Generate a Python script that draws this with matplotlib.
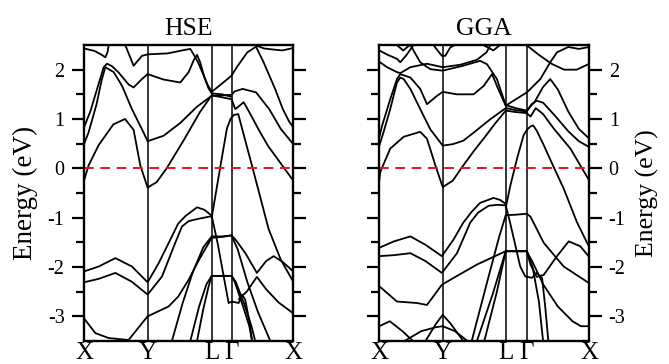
import matplotlib
matplotlib.use("Agg")
import matplotlib.pyplot as plt

plt.rcParams['font.family'] = ['Liberation Serif', 'DejaVu Serif']
plt.rcParams['axes.unicode_minus'] = False

# ---------------- k-path labels ----------------
kpath_labels = ['X', 'Y', 'L', 'Γ', 'X']
hse_kpts = [0.0, 0.304, 0.610, 0.705, 1.0]
gga_kpts = [0.0, 0.302, 0.602, 0.702, 1.0]
panel_titles = ['HSE', 'GGA']
yticks_major = [-3, -2, -1, 0, 1, 2]
yticks_minor = [-2.5, -1.5, -0.5, 0.5, 1.5]

# ---------------- HSE bands (k, E in eV) ----------------
hse_c1 = ([0, .022, .07, .14, .196, .237, .269, .304, .347, .395, .475, .554, .61, .66, .705, .723, .763, .80, .835, .88, .94, 1.0],
          [-.25, .06, .47, .89, 1.0, .78, .06, -.39, -.28, 0, .56, 1.14, 1.48, 1.44, 1.40, 1.20, 1.34, 1.06, .78, .45, .10, -.25])
hse_c2 = ([0, .022, .06, .085, .102, .142, .182, .229, .277, .304, .38, .46, .54, .61, .66, .705, .72, .758, .822, .885, .94, 1.0],
          [.49, .73, 1.30, 1.80, 2.05, 1.95, 1.67, 1.20, .79, .55, .66, .92, 1.25, 1.47, 1.48, 1.49, 1.56, 1.61, 1.54, 1.20, .80, .49])
hse_c3 = ([0, .03, .062, .094, .11, .134, .166, .213, .237, .277, .304, .38, .46, .50, .525, .54, .555, .575, .595, .61, .66, .705],
          [.83, 1.15, 1.6, 2.05, 2.12, 2.07, 1.94, 1.70, 1.64, 1.81, 1.91, 1.80, 1.74, 1.95, 2.2, 2.3, 2.15, 1.85, 1.62, 1.52, 1.50, 1.45])
hse_c4 = ([.197, .237, .277, .304, .40, .48, .508, .525, .545, .565, .59, .61, .66, .705, .73, .78, .835],
          [2.5, 2.08, 2.28, 2.31, 2.33, 2.40, 2.42, 2.30, 2.15, 1.95, 1.70, 1.55, 1.72, 1.88, 2.05, 2.35, 2.5])
hse_c5 = ([0, .05, .085, .102, .112, .118],
          [2.43, 2.38, 2.30, 2.25, 2.35, 2.5])
hse_c6 = ([.818, .86, .90, .946, .98, 1.0],
          [2.5, 2.43, 2.41, 2.39, 2.42, 2.44])
hse_c7 = ([.818, .858, .914, .95, .98, 1.0],
          [2.5, 2.15, 1.6, 1.2, .95, .83])
hse_v1 = ([0, .07, .15, .229, .304, .357, .42, .45, .484, .54, .575, .61],
          [-2.09, -1.99, -1.82, -1.99, -2.31, -1.92, -1.38, -1.12, -.97, -.79, -.84, -.96])
hse_v2 = ([0, .07, .15, .229, .304, .373, .436, .468, .50, .55, .61],
          [-2.31, -2.24, -2.12, -2.3, -2.56, -2.19, -1.51, -1.18, -1.07, -1.02, -.97])
hse_v3 = ([.61, .64, .66, .683, .70, .715, .737, .755, .806, .882, .94, 1.0],
          [-1.0, -.25, .25, .81, 1.0, 1.08, 1.1, .81, 0, -1.23, -1.85, -2.3])
hse_v4 = ([.61, .64, .67, .691, .707, .739, .755, .77, .79, .803],
          [-.96, -1.55, -2.25, -2.73, -2.7, -2.73, -2.56, -2.66, -3.1, -3.5])
hse_v5 = ([0, .054, .118, .213, .277, .304, .404, .45, .50, .55, .61, .66, .705, .725, .771, .826, .87, .906, .95, 1.0],
          [-3.04, -3.34, -3.44, -3.48, -3.14, -3.0, -2.8, -2.6, -2.26, -1.85, -1.41, -1.39, -1.36, -1.45, -1.72, -2.12, -1.88, -1.78, -1.9, -2.09])
hse_v6 = ([.42, .47, .52, .57, .61, .66, .705, .735, .78, .83, .89],
          [-3.5, -2.75, -2.1, -1.6, -1.38, -1.38, -1.36, -1.65, -2.3, -2.9, -3.5])
hse_v7 = ([.508, .55, .585, .61, .66, .705, .72, .76, .79, .803],
          [-3.5, -2.8, -2.35, -2.18, -2.18, -2.18, -2.3, -2.8, -3.2, -3.5])
hse_v8 = ([.54, .57, .595, .61, .66, .705, .725, .77, .80, .818],
          [-3.5, -2.85, -2.4, -2.18, -2.18, -2.18, -2.3, -2.8, -3.2, -3.5])
hse_v9 = ([.74, .779, .826, .87, .93, 1.0],
          [-2.65, -2.49, -2.2, -2.45, -2.72, -2.94])

# ---------------- GGA bands (k, E in eV) ----------------
gga_c1 = ([0, .005, .052, .116, .195, .227, .267, .302, .35, .39, .45, .50, .55, .602, .65, .702, .72, .745, .78, .83, .91, 1.0],
          [-.25, -.07, .40, .64, .74, .60, .06, -.38, -.25, 0, .35, .62, .90, 1.17, 1.14, 1.12, 1.05, 1.22, 1.1, .81, .40, -.25])
gga_c2 = ([0, .02, .052, .084, .10, .116, .148, .195, .243, .302, .35, .40, .46, .53, .602, .65, .702, .725, .75, .78, .84, .90, .95, 1.0],
          [.46, .73, 1.2, 1.74, 1.84, 1.81, 1.61, 1.2, .79, .46, .49, .56, .76, 1.0, 1.22, 1.18, 1.15, 1.3, 1.37, 1.33, 1.05, .75, .55, .43])
gga_c3 = ([0, .013, .052, .084, .10, .148, .195, .227, .275, .302, .37, .449, .497, .537, .56, .602, .65, .703, .767, .814, .846, .87, .90, .95, 1.0],
          [.63, .86, 1.4, 1.81, 1.91, 1.84, 1.61, 1.3, 1.47, 1.55, 1.5, 1.5, 1.67, 1.91, 1.67, 1.27, 1.4, 1.54, 1.81, 2.15, 2.35, 2.4, 2.46, 2.42, 2.46])
gga_t1 = ([0, .04, .084, .10, .13, .163],
          [2.39, 2.3, 2.22, 2.15, 2.3, 2.5])
gga_t2 = ([0, .037, .084, .10, .148, .227, .302, .386, .465, .51, .53],
          [2.16, 2.05, 1.95, 1.93, 2.05, 2.12, 2.05, 2.1, 2.2, 2.35, 2.5])
gga_t3 = ([.083, .114, .146],
          [2.5, 2.39, 2.5])
gga_t4 = ([.259, .298, .314, .338, .36],
          [2.49, 2.28, 2.28, 2.45, 2.5])
gga_t5 = ([.148, .195, .243, .302, .40, .48, .513, .56, .602, .65, .702, .74, .78, .814, .85, .90, .95, 1.0],
          [2.5, 2.15, 2.01, 1.98, 2.08, 2.18, 2.11, 1.81, 1.28, 1.22, 1.17, 1.35, 1.65, 1.81, 1.6, 1.15, .8, .6])
gga_t6 = ([.495, .543, .575],
          [2.5, 2.39, 2.5])
gga_t7 = ([.70, .76, .82, .88, .94, 1.0],
          [2.5, 2.3, 2.12, 2.0, 2.0, 2.12])
gga_v1 = ([0, .07, .148, .22, .298, .354, .40, .44, .48, .544, .575, .602],
          [-1.61, -1.48, -1.38, -1.55, -1.78, -1.44, -1.1, -.88, -.7, -.6, -.64, -.72])
gga_v2 = ([0, .07, .148, .22, .298, .37, .433, .47, .52, .56, .602],
          [-1.78, -1.76, -1.72, -1.88, -2.12, -1.72, -1.1, -.9, -.76, -.74, -.75])
gga_v3 = ([.602, .624, .656, .687, .703, .72, .733, .75, .783, .83, .878, .941, 1.0],
          [-.8, -.35, .2, .67, .78, .85, .87, .76, .47, .03, -.41, -1.09, -1.6])
gga_v4 = ([.602, .62, .65, .671, .695, .727, .75, .775, .79, .805],
          [-.75, -1.05, -1.6, -1.99, -2.19, -2.22, -2.12, -2.22, -2.8, -3.5])
gga_v5 = ([0, .084, .179, .227, .298, .354, .465, .602, .65, .702, .73, .78, .85, .92, .96, 1.0],
          [-2.39, -2.7, -2.73, -2.77, -2.36, -2.22, -1.95, -1.68, -1.68, -1.68, -1.9, -2.35, -2.8, -3.1, -3.2, -3.2])
gga_vA = ([.44, .52, .57, .602, .65, .702, .72, .783, .878, 1.0],
          [-3.5, -2.2, -1.4, -.95, -.94, -.92, -.98, -1.51, -1.99, -2.33])
gga_v6 = ([.465, .54, .602, .65, .702, .73, .76, .78],
          [-3.5, -2.55, -1.68, -1.68, -1.68, -2.0, -2.7, -3.5])
gga_v7 = ([.50, .56, .602, .65, .702, .72, .75, .783, .846, .902, .957, 1.0],
          [-3.5, -2.5, -1.68, -1.68, -1.68, -1.95, -2.2, -2.16, -1.78, -1.48, -1.58, -1.8])
gga_b1 = ([0, .05, .11, .16],
          [-3.2, -3.1, -3.3, -3.5])
gga_b2 = ([.22, .27, .302, .34, .40],
          [-3.5, -3.15, -2.97, -3.15, -3.5])
gga_b3 = ([.12, .2, .27, .302, .36, .42],
          [-3.5, -3.3, -3.22, -3.2, -3.3, -3.5])

hse_bands = [hse_c1, hse_c2, hse_c3, hse_c4, hse_c5, hse_c6, hse_c7,
             hse_v1, hse_v2, hse_v3, hse_v4, hse_v5, hse_v6, hse_v7, hse_v8, hse_v9]
gga_bands = [gga_c1, gga_c2, gga_c3, gga_t1, gga_t2, gga_t3, gga_t4, gga_t5, gga_t6, gga_t7,
             gga_v1, gga_v2, gga_v3, gga_v4, gga_v5, gga_vA, gga_v6, gga_v7, gga_b1, gga_b2, gga_b3]

fig = plt.figure(figsize=(6.69, 3.64), dpi=100)
W, H = 669.0, 364.0
ax1 = fig.add_axes([84 / W, 23 / H, 209.3 / W, 296 / H])
ax2 = fig.add_axes([379.3 / W, 23 / H, 210 / W, 296 / H])

for ax, bands, kpts, title, side in [(ax1, hse_bands, hse_kpts, panel_titles[0], 'left'),
                                      (ax2, gga_bands, gga_kpts, panel_titles[1], 'right')]:
    for k, e in bands:
        ax.plot(k, e, color='black', lw=1.3, solid_joinstyle='round', solid_capstyle='round')
    for kp in kpts[1:-1]:
        ax.axvline(kp, color='black', lw=1.1)
    ax.axhline(0, color='#e8131b', lw=1.4, ls=(0, (5, 3.4)))
    ax.set_xlim(0, 1)
    ax.set_ylim(-3.5, 2.5)
    ax.set_xticks(kpts)
    ax.set_xticklabels(kpath_labels, fontsize=18)
    ax.tick_params(axis='x', length=0, pad=0.5)
    ax.set_yticks(yticks_major)
    ax.set_yticks(yticks_minor, minor=True)
    ax.tick_params(axis='y', which='both', direction='out', left=True, right=True, width=1.6,
                   labelsize=14.5, pad=5)
    ax.tick_params(axis='y', which='major', length=9)
    ax.tick_params(axis='y', which='minor', length=5.5)
    for s in ax.spines.values():
        s.set_linewidth(1.7)
    ax.set_title(title, fontsize=18.5, pad=7)
    if side == 'left':
        ax.tick_params(axis='y', labelleft=True, labelright=False)
        ax.set_ylabel('Energy (eV)', fontsize=19.5, labelpad=7)
    else:
        ax.tick_params(axis='y', labelleft=False, labelright=True)
        ax.yaxis.set_label_position('right')
        ax.set_ylabel('Energy (eV)', fontsize=18.5, labelpad=7.5)

fig.savefig('out.png', dpi=100)
